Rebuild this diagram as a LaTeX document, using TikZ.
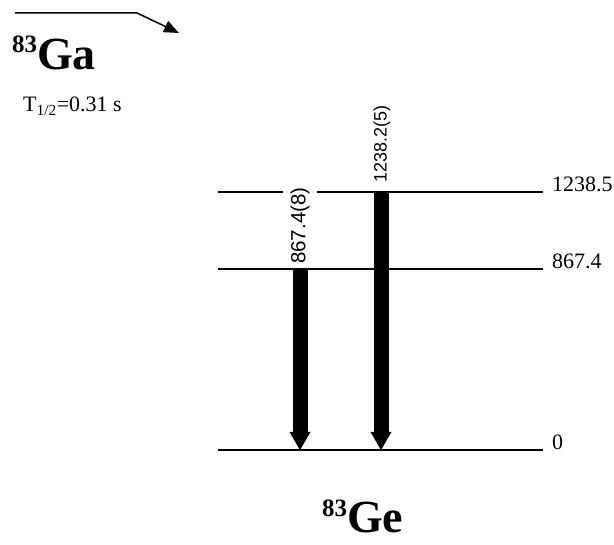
\documentclass[tikz,border=0pt]{standalone}
\usepackage{fontspec}
\setmainfont{Liberation Serif}
\newfontfamily\arialf{Liberation Sans}
\usetikzlibrary{arrows.meta,calc}
\tikzset{
  level/.style={line width=1.7pt},
  lvllabel/.style={anchor=base west,inner sep=0pt,font=\fontsize{22}{22}\selectfont},
  gam/.style={line width=15pt,-{Triangle[width=21pt,length=18pt,line width=0pt]}},
  glabel/.style={rotate=90,anchor=west,inner xsep=1pt,inner ysep=7pt,fill=white,font=\arialf\fontsize{18}{18}\selectfont},
  nuclide/.style={anchor=base west,inner sep=0pt},
}
\newcommand{\nucl}[2]{\raisebox{0pt}[\height][0pt]{\raisebox{17pt}{\fontsize{25}{25}\selectfont\bfseries #1}\fontsize{46}{46}\selectfont\bfseries #2}}
\begin{document}
\begin{tikzpicture}[x=1pt,y=-1pt]
\useasboundingbox (0,0) rectangle (614,545);
% parent decay arrow
\coordinate (d0) at (15,13);
\coordinate (d1) at (137,13);
\coordinate (d2) at (179,33);
\draw[line width=1.5pt,-{Triangle[width=12pt,length=15pt]}] (d0) -- (d1) -- (d2);
\node[nuclide] (ga) at (12,70) {\nucl{83}{Ga}};
\node[anchor=base west,inner sep=0pt] (thalf) at (23,112)
  {\fontsize{22}{22}\selectfont T\textsubscript{1/2}=0.31 s};
% levels
\coordinate (a1) at (218,192); \coordinate (b1) at (543,192);
\coordinate (a2) at (218,269); \coordinate (b2) at (543,269);
\coordinate (a0) at (218,450); \coordinate (b0) at (543,450);
\draw[level] (a1) -- (b1);
\draw[level] (a2) -- (b2);
\draw[level] (a0) -- (b0);
\node[lvllabel] (l1) at (552,192) {1238.5};
\node[lvllabel] (l2) at (552,269) {867.4};
\node[lvllabel] (l0) at (552,450) {0};
% gamma transitions
\coordinate (g1t) at (381,192); \coordinate (g1b) at (381,450);
\coordinate (g2t) at (300,269); \coordinate (g2b) at (300,450);
\draw[gam] (g1t) -- (g1b);
\draw[gam] (g2t) -- (g2b);
\node[glabel,inner ysep=1pt] (lab1) at (382,184) {1238.2(5)};
\node[glabel,font=\arialf\fontsize{20.5}{20.5}\selectfont] (lab2) at (300,265) {867.4(8)};
% daughter
\node[nuclide] (ge) at (322,533) {\nucl{83}{Ge}};
\end{tikzpicture}
\end{document}
